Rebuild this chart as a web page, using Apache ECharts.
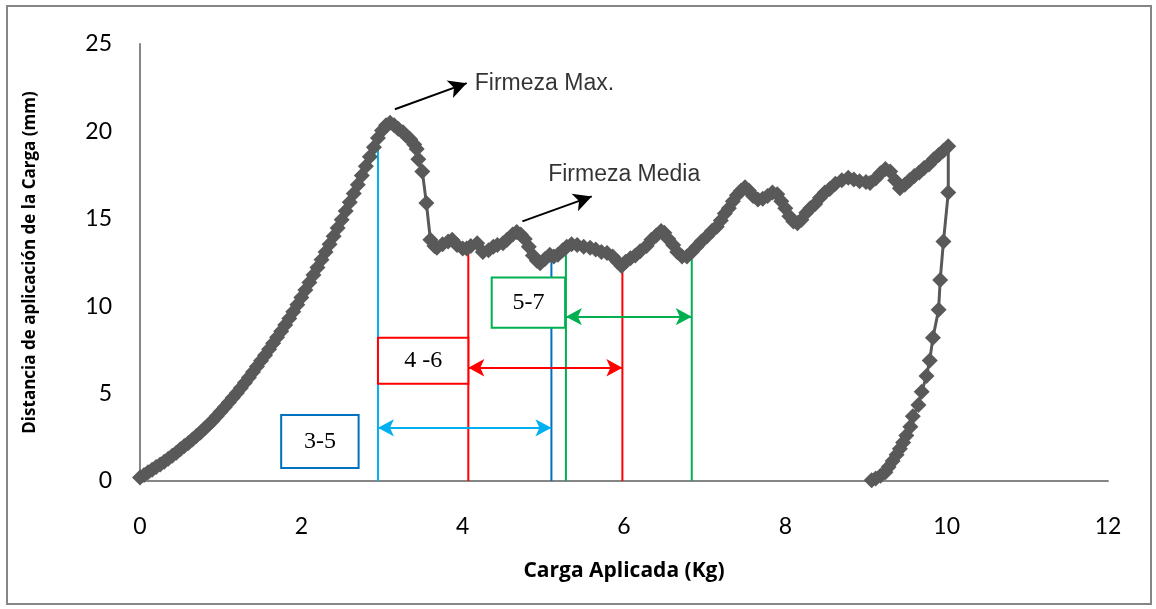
<!DOCTYPE html>
<html>
<head>
<meta charset="utf-8">
<title>Firmeza</title>
<script src="https://cdn.jsdelivr.net/npm/echarts@6/dist/echarts.min.js"></script>
<style>
  html, body { margin: 0; padding: 0; background: #fff; }
  #chart { width: 1156px; height: 609px; }
</style>
</head>
<body>
<div id="chart"></div>
<script>
// curva carga vs distancia
const cargaKg = [
  0.00, 0.05, 0.10, 0.15, 0.20, 0.25, 0.30, 0.35, 0.40, 0.45,
  0.50, 0.55, 0.60, 0.65, 0.70, 0.75, 0.80, 0.85, 0.90, 0.95,
  1.00, 1.05, 1.10, 1.15, 1.20, 1.25, 1.30, 1.35, 1.40, 1.45,
  1.50, 1.55, 1.60, 1.65, 1.70, 1.75, 1.80, 1.85, 1.90, 1.95,
  2.00, 2.05, 2.10, 2.15, 2.20, 2.25, 2.30, 2.35, 2.40, 2.45,
  2.50, 2.55, 2.60, 2.65, 2.70, 2.75, 2.80, 2.85, 2.90, 2.95,
  3.00, 3.05, 3.10, 3.15, 3.20, 3.26, 3.30, 3.35, 3.40, 3.43,
  3.45, 3.50, 3.55, 3.60, 3.65, 3.68, 3.75, 3.82, 3.87, 3.93,
  4.00, 4.05, 4.10, 4.18, 4.25, 4.32, 4.38, 4.43, 4.50, 4.55,
  4.62, 4.67, 4.72, 4.77, 4.82, 4.87, 4.92, 4.96, 5.02, 5.08,
  5.13, 5.18, 5.24, 5.29, 5.35, 5.42, 5.50, 5.58, 5.65, 5.72,
  5.79, 5.86, 5.92, 5.97, 6.02, 6.08, 6.14, 6.20, 6.28, 6.34,
  6.40, 6.46, 6.50, 6.55, 6.61, 6.66, 6.72, 6.78, 6.84, 6.90,
  6.96, 7.03, 7.09, 7.15, 7.20, 7.25, 7.30, 7.35, 7.40, 7.45,
  7.50, 7.55, 7.60, 7.66, 7.72, 7.78, 7.84, 7.90, 7.95, 8.00,
  8.05, 8.10, 8.15, 8.20, 8.26, 8.31, 8.37, 8.43, 8.49, 8.55,
  8.62, 8.70, 8.78, 8.85, 8.92, 9.00, 9.05, 9.12, 9.18, 9.24,
  9.30, 9.36, 9.42, 9.48, 9.54, 9.60, 9.66, 9.72, 9.78, 9.84,
  9.90, 9.96, 10.02,
  10.02, 9.96, 9.92, 9.90, 9.83, 9.79, 9.75, 9.69, 9.65, 9.58,
  9.55, 9.50, 9.46, 9.42, 9.38, 9.33, 9.28, 9.24, 9.18, 9.12, 9.07
];
const distanciaMm = [
  0.20, 0.35, 0.50, 0.65, 0.80, 0.95, 1.10, 1.28, 1.45, 1.62,
  1.82, 2.00, 2.18, 2.37, 2.57, 2.78, 3.00, 3.22, 3.45, 3.70,
  3.96, 4.22, 4.49, 4.76, 5.04, 5.32, 5.62, 5.92, 6.23, 6.55,
  6.88, 7.20, 7.54, 7.88, 8.22, 8.57, 8.93, 9.30, 9.68, 10.08,
  10.50, 10.92, 11.35, 11.78, 12.22, 12.66, 13.10, 13.55, 14.00, 14.47,
  14.95, 15.45, 15.95, 16.45, 16.95, 17.47, 18.00, 18.55, 19.10, 19.62,
  20.05, 20.35, 20.50, 20.35, 20.15, 19.95, 19.75, 19.55, 19.25, 19.00,
  18.40, 17.70, 15.90, 13.80, 13.45, 13.35, 13.55, 13.70, 13.80, 13.50,
  13.30, 13.30, 13.45, 13.60, 13.10, 13.20, 13.40, 13.50, 13.60, 13.80,
  14.10, 14.25, 14.10, 13.85, 13.40, 12.90, 12.60, 12.45, 12.70, 12.95,
  12.85, 12.95, 13.20, 13.40, 13.55, 13.50, 13.40, 13.35, 13.25, 13.10,
  13.05, 12.85, 12.55, 12.30, 12.55, 12.75, 12.90, 13.15, 13.45, 13.80,
  14.05, 14.30, 14.20, 13.85, 13.50, 13.10, 12.85, 12.85, 13.10, 13.40,
  13.70, 14.00, 14.30, 14.55, 14.90, 15.30, 15.60, 16.00, 16.35, 16.60,
  16.80, 16.60, 16.30, 16.10, 16.15, 16.30, 16.50, 16.40, 16.00, 15.60,
  15.15, 14.85, 14.75, 14.95, 15.35, 15.60, 15.85, 16.20, 16.50, 16.70,
  17.00, 17.20, 17.35, 17.25, 17.15, 17.10, 17.05, 17.30, 17.60, 17.85,
  17.70, 17.20, 16.75, 16.95, 17.20, 17.45, 17.65, 17.90, 18.10, 18.40,
  18.65, 18.90, 19.15,
  16.50, 13.70, 11.50, 9.80, 8.20, 6.90, 6.00, 5.10, 4.35, 3.70,
  3.10, 2.60, 2.20, 1.85, 1.50, 1.15, 0.80, 0.50, 0.30, 0.15, 0.05
];

// lineas verticales de referencia
const guiaX = [2.95, 4.07, 5.10, 5.28, 5.98, 6.84];
const guiaTope = [19.8, 13.4, 12.7, 13.4, 12.75, 13.4];

// rangos 3-5, 4-6, 5-7
const rangoNombre = ['3-5', '4 -6', '5-7'];
const rangoDesde = [2.95, 4.07, 5.28];
const rangoHasta = [5.10, 5.98, 6.84];
const rangoY = [3.04, 6.48, 9.40];
const cajaX = [[1.75, 2.71], [2.95, 4.07], [4.36, 5.27]];
const cajaY = [[0.75, 3.78], [5.56, 8.20], [8.77, 11.64]];

// notas con flecha
const notaTexto = ['Firmeza Max.', 'Firmeza Media'];
const notaPos = [[4.15, 22.75], [5.06, 17.55]];
const flechaDesde = [[3.16, 21.27], [4.74, 14.85]];
const flechaHasta = [[4.05, 22.76], [5.60, 16.28]];

const ticksX = [0, 2, 4, 6, 8, 10, 12];
const ticksY = [0, 5, 10, 15, 20, 25];

const gris = '#595959';
const colorGuia = ['#00b0f0', '#ff0000', '#0070c0', '#00b050', '#ff0000', '#00b050'];
const colorRango = ['#00b0f0', '#ff0000', '#00b050'];
const colorCaja = ['#0070c0', '#ff0000', '#00b050'];

const curva = cargaKg.map((x, i) => [x, distanciaMm[i]]);

const series = [];

guiaX.forEach((x, i) => {
  series.push({
    type: 'line',
    z: 2,
    silent: true,
    showSymbol: false,
    data: [[x, 0], [x, guiaTope[i]]],
    lineStyle: { color: colorGuia[i], width: 2 }
  });
});

series.push({
  type: 'line',
  name: 'curva',
  z: 3,
  data: curva,
  symbol: 'diamond',
  symbolSize: 16,
  showAllSymbol: true,
  itemStyle: { color: gris },
  lineStyle: { color: gris, width: 3 }
});

// flechas dobles de los rangos
rangoNombre.forEach((n, i) => {
  series.push({
    type: 'line',
    z: 4,
    silent: true,
    data: [],
    markLine: {
      silent: true,
      z: 4,
      symbol: ['arrow', 'arrow'],
      symbolSize: [13, 16],
      label: { show: false },
      lineStyle: { color: colorRango[i], width: 2, type: 'solid' },
      data: [[{ coord: [rangoDesde[i], rangoY[i]] }, { coord: [rangoHasta[i], rangoY[i]] }]]
    }
  });
});

// cajas con el nombre del rango
series.push({
  type: 'line',
  z: 6,
  silent: true,
  data: [],
  markArea: {
    silent: true,
    z: 10,
    data: rangoNombre.map((n, i) => [
      {
        name: n,
        coord: [cajaX[i][0], cajaY[i][1]],
        itemStyle: { color: '#ffffff', borderColor: colorCaja[i], borderWidth: 2 }
      },
      { coord: [cajaX[i][1], cajaY[i][0]] }
    ]),
    label: {
      show: true,
      position: 'inside',
      color: '#000',
      fontFamily: 'Liberation Serif',
      fontSize: 24
    }
  }
});

// flechas negras
series.push({
  type: 'line',
  z: 5,
  silent: true,
  data: [],
  markLine: {
    silent: true,
    symbol: ['none', 'arrow'],
    symbolSize: [14, 18],
    label: { show: false },
    lineStyle: { color: '#000', width: 2, type: 'solid' },
    data: flechaDesde.map((p, i) => [{ coord: p }, { coord: flechaHasta[i] }])
  }
});

series.push({
  type: 'scatter',
  z: 5,
  silent: true,
  symbolSize: 0,
  data: notaPos.map((p, i) => ({ value: p, name: notaTexto[i] })),
  label: {
    show: true,
    position: 'right',
    distance: 0,
    formatter: p => p.name,
    color: '#000',
    fontFamily: 'Liberation Sans',
    fontSize: 23
  }
});

const chart = echarts.init(document.getElementById('chart'));
chart.setOption({
  animation: false,
  backgroundColor: '#fff',
  graphic: [{
    type: 'rect',
    shape: { x: 7, y: 6, width: 1144, height: 598 },
    style: { fill: null, stroke: '#868686', lineWidth: 2 },
    silent: true
  }],
  grid: { left: 140, right: 48, top: 44, bottom: 128 },
  xAxis: {
    type: 'value',
    min: ticksX[0],
    max: ticksX[ticksX.length - 1],
    interval: 2,
    name: 'Carga Aplicada (Kg)',
    nameLocation: 'middle',
    nameGap: 80,
    nameTextStyle: { fontFamily: 'Open Sans', fontWeight: 'bold', fontSize: 21, color: '#000' },
    axisLine: { onZero: false, lineStyle: { color: '#868686', width: 2 } },
    axisTick: { show: false },
    splitLine: { show: false },
    axisLabel: { margin: 34, fontFamily: 'Lato', fontSize: 23, color: '#000' }
  },
  yAxis: {
    type: 'value',
    min: ticksY[0],
    max: ticksY[ticksY.length - 1],
    interval: 5,
    name: 'Distancia de aplicación de la Carga (mm)',
    nameLocation: 'middle',
    nameGap: 101,
    nameTextStyle: { fontFamily: 'Open Sans', fontWeight: 'bold', fontSize: 17, color: '#000' },
    axisLine: { show: true, lineStyle: { color: '#868686', width: 2 } },
    axisTick: { show: false },
    splitLine: { show: false },
    axisLabel: { margin: 28, fontFamily: 'Lato', fontSize: 23, color: '#000' }
  },
  series: series
});
</script>
</body>
</html>
